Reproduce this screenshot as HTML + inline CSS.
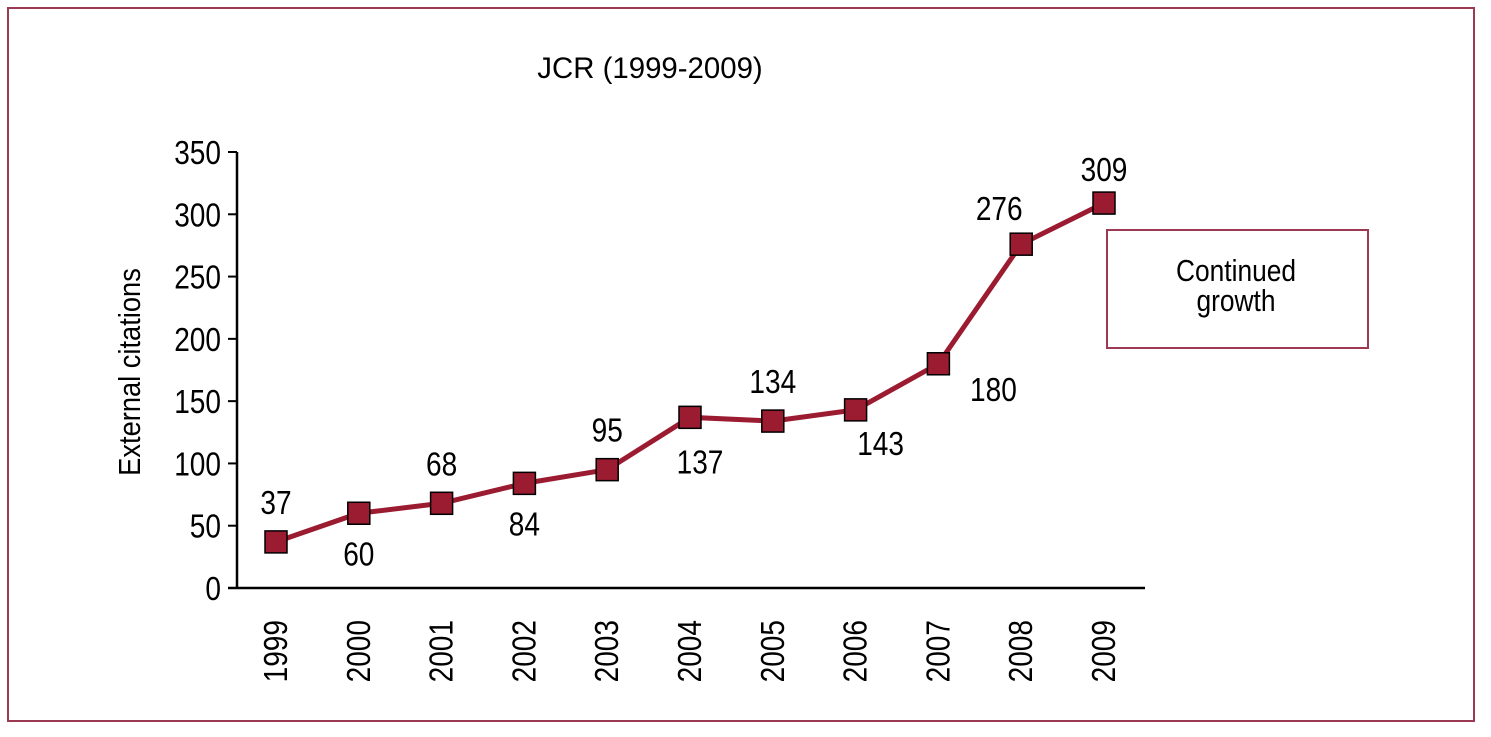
<!DOCTYPE html>
<html><head><meta charset="utf-8"><style>
body{margin:0;background:#fff;}
svg{display:block;font-family:"Liberation Sans Narrow","Liberation Sans",sans-serif;}
</style></head><body>
<svg width="1491" height="737">
<rect x="8" y="8" width="1466" height="713" fill="#fff" stroke="#9b3a52" stroke-width="2"/>
<text x="650" y="78" font-size="30" text-anchor="middle" transform="translate(650,0) scale(0.98,1) translate(-650,0)">JCR (1999-2009)</text>
<text transform="translate(140,372) rotate(-90) scale(0.88,1)" font-size="31" text-anchor="middle">External citations</text>
<g id="axes"></g>
<g id="marks"></g>
<rect x="1107" y="230" width="261" height="118" fill="#fff" stroke="#9b3a52" stroke-width="2"/>
<text font-size="31" text-anchor="middle" transform="translate(1236,281) scale(0.85,1)"><tspan x="0">Continued</tspan><tspan x="0" dy="30">growth</tspan></text>
</svg>
<script>
const years=["1999","2000","2001","2002","2003","2004","2005","2006","2007","2008","2009"];
const citations=[37,60,68,84,95,137,134,143,180,276,309];
const labelBelow=[false,true,false,true,false,true,false,true,true,false,false];
const yTicks=[0,50,100,150,200,250,300,350];
const NS="http://www.w3.org/2000/svg";
const x0=276,x1=1104,yBase=588,yTop=152,yMax=350;
const xs=i=>x0+(x1-x0)*i/(years.length-1);
const ys=v=>yBase-(yBase-yTop)*v/yMax;
function mk(tag,attrs,parent){const e=document.createElementNS(NS,tag);for(const k in attrs)e.setAttribute(k,attrs[k]);parent.appendChild(e);return e;}
const ax=document.getElementById('axes'),mg=document.getElementById('marks');
let l=mk('line',{x1:237,y1:yTop,x2:237,y2:yBase,stroke:'#000','stroke-width':2.5},ax);


l=mk('line',{x1:228,y1:yBase,x2:1145,y2:yBase,stroke:'#000','stroke-width':2.5},ax);


yTicks.forEach(t=>{
 const tk=mk('line',{x1:228,y1:ys(t),x2:237,y2:ys(t),stroke:'#000','stroke-width':2},ax);
 
 
 const tx=mk('text',{transform:`translate(221,${ys(t)+12}) scale(0.85,1)`,'font-size':33,'text-anchor':'end'},ax);
 tx.textContent=t;
 
 
});
years.forEach((y,i)=>{
 const tx=mk('text',{transform:`translate(${xs(i)+11},620) rotate(-90) scale(0.85,1)`,'font-size':33,'text-anchor':'end'},ax);
 tx.textContent=y;
 
 
});
const pl=mk('polyline',{points:citations.map((v,i)=>xs(i)+','+ys(v)).join(' '),fill:'none',stroke:'#9b1b30','stroke-width':5},mg);


citations.forEach((v,i)=>{
 const r=mk('rect',{x:xs(i)-11,y:ys(v)-11,width:22,height:22,fill:'#9b1b30',stroke:'#000','stroke-width':1.5},mg);
 
 
 let dx=0,dy=labelBelow[i]?52:-28;
 if(i==5){dx=10;dy=56;}
 if(i==7){dx=25;dy=45;}
 if(i==8){dx=55;dy=37;}
 if(i==9){dx=-22;dy=-24;}
 if(i==10){dy=-22;}
 const tx=mk('text',{transform:`translate(${xs(i)+dx},${ys(v)+dy}) scale(0.85,1)`,'font-size':33,'text-anchor':'middle'},mg);
 tx.textContent=v;
 
 
});
</script>
</body></html>
